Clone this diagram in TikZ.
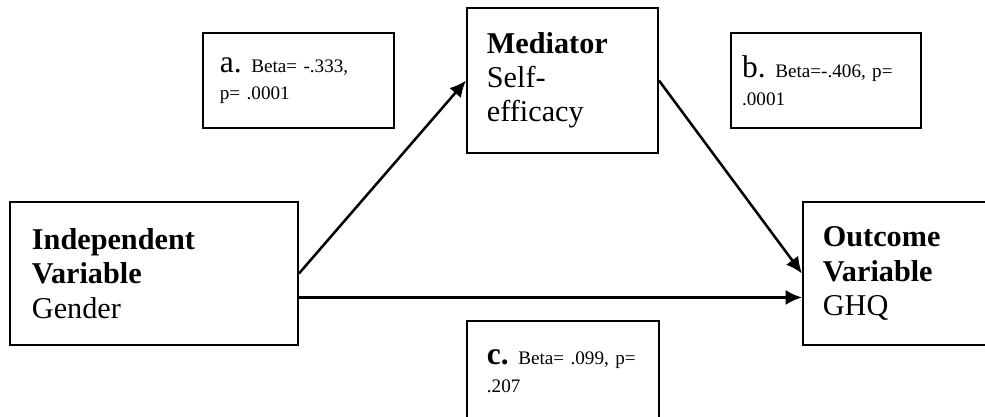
\documentclass[tikz,border=0pt]{standalone}
\usepackage{fontspec}
\setmainfont{Liberation Serif}
\usetikzlibrary{arrows.meta,positioning}

\begin{document}
\begin{tikzpicture}[x=0.397pt,y=-0.397pt,
  varbox/.style={draw,line width=0.8pt,align=left,font=\fontsize{12}{13.6}\selectfont},
  pathbox/.style={draw,line width=0.8pt,align=left,font=\fontsize{7.6}{11}\selectfont},
  pathline/.style={line width=1pt,-{Latex[length=6.5pt,width=6pt]}}]
\useasboundingbox (0,0) rectangle (985,416);
\clip (0,0) rectangle (985,416);
       \node [varbox,minimum width=114.3pt,minimum height=56.8pt,text width=96.9pt,inner xsep=8.7pt] (iv) at (154,273.5) {\textbf{Independent}\\\textbf{Variable}\\Gender};
       \node [varbox,minimum width=75.8pt,minimum height=57.6pt,text width=60pt,inner xsep=7.9pt] (med) at (562.5,80.5) {\textbf{Mediator}\\Self-\\efficacy};
       \node [varbox,minimum width=79.4pt,minimum height=56.8pt,text width=63.6pt,inner xsep=7.9pt] (ov) at (903,273.5) {\textbf{Outcome}\\\textbf{Variable}\\GHQ};
       \node [pathbox,minimum width=75.8pt,minimum height=37.7pt,text width=62.4pt,inner xsep=6.7pt] (a) at (298.5,80.5) {\mbox{{\fontsize{12.5}{13}\selectfont a.} Beta= -.333,}\\p= .0001};
       \node [pathbox,minimum width=75.4pt,minimum height=37.7pt,text width=66.6pt,inner xsep=4.4pt] (b) at (826,80.5) {\mbox{{\fontsize{12.5}{13}\selectfont b.} Beta=-.406, p=}\\.0001};
       \node [pathbox,minimum width=76.2pt,minimum height=39.7pt,text width=60.4pt,inner xsep=7.9pt] (c) at (563,371) {\mbox{{\fontsize{12.5}{13}\selectfont\bfseries c.} Beta= .099, p=}\\.207};
% paths
\draw [pathline] (iv.east) -- (med.west);
\draw [pathline] (med.east) -- (ov.west);
\draw [pathline] ([yshift=-9.5pt]iv.east) -- ([yshift=-9.5pt]ov.west);
\end{tikzpicture}
\end{document}
